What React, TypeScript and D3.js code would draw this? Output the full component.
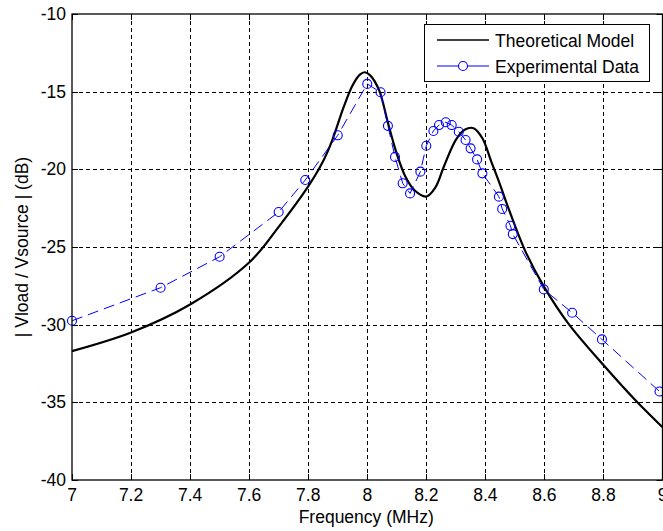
import React from "react";
import * as d3 from "d3";

const xTicks = [7, 7.2, 7.4, 7.6, 7.8, 8, 8.2, 8.4, 8.6, 8.8, 9];
const yTicks = [-40, -35, -30, -25, -20, -15, -10];

const modelFreq = [7.0, 7.2, 7.4, 7.6, 7.7, 7.8, 7.85, 7.88, 7.92, 7.95, 7.975, 7.992, 8.01, 8.04, 8.07, 8.1, 8.13, 8.16, 8.2, 8.23, 8.26, 8.3, 8.33, 8.36, 8.39, 8.42, 8.45, 8.48, 8.536, 8.6, 8.68, 8.8, 8.91, 9.0];
const modelDb = [-31.7, -30.5, -28.7, -26.0, -23.7, -21.1, -19.5, -18.2, -16.0, -14.6, -13.9, -13.75, -13.95, -14.9, -17.0, -19.0, -20.5, -21.35, -21.75, -21.2, -19.8, -18.1, -17.45, -17.35, -18.0, -19.5, -21.0, -22.6, -25.3, -27.6, -29.9, -32.6, -34.9, -36.6];

const expFreq = [7.0, 7.3, 7.5, 7.7, 7.79, 7.9, 8.0, 8.045, 8.07, 8.094, 8.12, 8.145, 8.18, 8.2, 8.224, 8.243, 8.266, 8.286, 8.31, 8.333, 8.35, 8.372, 8.39, 8.446, 8.457, 8.485, 8.493, 8.598, 8.694, 8.795, 8.99];
const expDb = [-29.75, -27.62, -25.63, -22.75, -20.69, -17.81, -14.5, -15.04, -17.2, -19.2, -20.9, -21.55, -20.15, -18.48, -17.53, -17.15, -16.97, -17.15, -17.58, -18.11, -18.65, -19.36, -20.26, -21.76, -22.55, -23.63, -24.17, -27.73, -29.23, -30.95, -34.3];

const seriesNames = ["Theoretical Model", "Experimental Data"];
const xLabel = "Frequency (MHz)";
const yLabel = "| Vload / Vsource | (dB)";

const W = 663;
const H = 531;
const L = 72;
const R = 662.5;
const T = 14;
const B = 480;
const FONT = "'Liberation Sans', Arial, Helvetica, sans-serif";
const FS = 17.5;

export default function App() {
  const x = d3.scaleLinear().domain([7, 9]).range([L, R]);
  const y = d3.scaleLinear().domain([-40, -10]).range([B, T]);

  const model = modelFreq.map((f, i) => [f, modelDb[i]] as [number, number]);
  const exp = expFreq.map((f, i) => [f, expDb[i]] as [number, number]);

  const modelLine = d3
    .line<[number, number]>()
    .x((d) => x(d[0]))
    .y((d) => y(d[1]))
    .curve(d3.curveCatmullRom.alpha(0.5));
  const expLine = d3
    .line<[number, number]>()
    .x((d) => x(d[0]))
    .y((d) => y(d[1]));

  const tickLen = 6;

  return (
    <div style={{ position: "fixed", left: 0, top: 0 }}>
      <svg width={W} height={H} style={{ display: "block", background: "#fff" }} fontFamily={FONT}>
        <rect x={0} y={0} width={W} height={H} fill="#fff" />
        {/* grid */}
        <g stroke="#000" strokeWidth={1} strokeDasharray="4,3" fill="none">
          {xTicks.slice(1, -1).map((t) => (
            <line key={"gx" + t} x1={Math.round(x(t)) + 0.5} x2={Math.round(x(t)) + 0.5} y1={T} y2={B} />
          ))}
          {yTicks.slice(1, -1).map((t) => (
            <line key={"gy" + t} x1={L} x2={R} y1={Math.round(y(t)) + 0.5} y2={Math.round(y(t)) + 0.5} />
          ))}
        </g>
        {/* ticks */}
        <g stroke="#000" strokeWidth={1}>
          {xTicks.map((t) => (
            <g key={"tx" + t}>
              <line x1={Math.round(x(t)) + 0.5} x2={Math.round(x(t)) + 0.5} y1={B} y2={B - tickLen} />
              <line x1={Math.round(x(t)) + 0.5} x2={Math.round(x(t)) + 0.5} y1={T} y2={T + tickLen} />
            </g>
          ))}
          {yTicks.map((t) => (
            <g key={"ty" + t}>
              <line x1={L} x2={L + tickLen} y1={Math.round(y(t)) + 0.5} y2={Math.round(y(t)) + 0.5} />
              <line x1={R} x2={R - tickLen} y1={Math.round(y(t)) + 0.5} y2={Math.round(y(t)) + 0.5} />
            </g>
          ))}
        </g>
        {/* data */}
        <path d={modelLine(model) || ""} fill="none" stroke="#000" strokeWidth={2.2} />
        <path d={expLine(exp) || ""} fill="none" stroke="#0000ff" strokeWidth={1} strokeDasharray="11,6" />
        {exp.map((d, i) => (
          <circle key={"c" + i} cx={x(d[0])} cy={y(d[1])} r={4.5} fill="none" stroke="#0000ff" strokeWidth={1.1} />
        ))}
        {/* frame */}
        <rect x={L} y={T} width={R - L} height={B - T} fill="none" stroke="#000" strokeWidth={1.3} />
        {/* tick labels */}
        <g fontSize={FS} fill="#000">
          {xTicks.map((t) => (
            <text key={"lx" + t} x={x(t)} y={501} textAnchor="middle">
              {String(t)}
            </text>
          ))}
          {yTicks.map((t) => (
            <text key={"ly" + t} x={L - 6} y={y(t)} textAnchor="end" dominantBaseline="central">
              {String(t)}
            </text>
          ))}
        </g>
        {/* axis labels */}
        <text x={(L + R) / 2 - 1} y={523} textAnchor="middle" fontSize={FS}>
          {xLabel}
        </text>
        <text
          transform={`translate(22, ${(T + B) / 2}) rotate(-90)`}
          textAnchor="middle"
          dominantBaseline="central"
          fontSize={FS}
        >
          {yLabel}
        </text>
        {/* legend */}
        <g>
          <rect x={424.5} y={24.5} width={225} height={57} fill="#fff" stroke="#000" strokeWidth={1} />
          <line x1={437} x2={489} y1={40} y2={40} stroke="#000" strokeWidth={1.5} />
          <text x={495} y={46.5} fontSize={FS}>
            {seriesNames[0]}
          </text>
          <line x1={437} x2={489} y1={66} y2={66} stroke="#0000ff" strokeWidth={1} />
          <circle cx={463} cy={66} r={4.5} fill="#fff" stroke="#0000ff" strokeWidth={1.1} />
          <text x={495} y={72.5} fontSize={FS}>
            {seriesNames[1]}
          </text>
        </g>
      </svg>
    </div>
  );
}
